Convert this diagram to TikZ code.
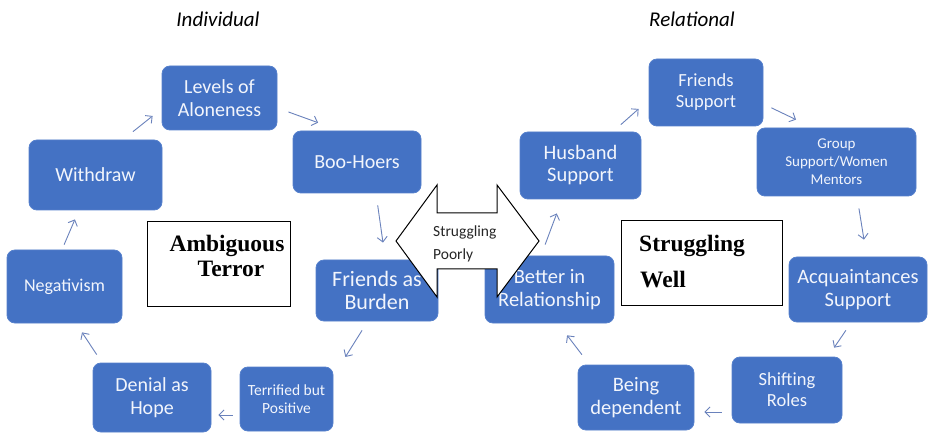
\documentclass[tikz,border=0pt]{standalone}
\usepackage{graphicx}
\usepackage{fontspec}
\setmainfont{Carlito}
\newfontfamily\tnr{Liberation Serif}
\usetikzlibrary{arrows.meta,calc}
\definecolor{boxblue}{HTML}{4472C4}
\definecolor{boxedge}{HTML}{5580CC}
\definecolor{arrc}{HTML}{6A82BC}
\definecolor{txtc}{HTML}{F2F5FC}
\newcommand\fsz[2]{\fontsize{#1}{#2}\selectfont}
\begin{document}
\begin{tikzpicture}[x=1pt,y=-1pt,
  bx/.style={draw=boxedge, fill=boxblue, rounded corners=8pt, text=txtc, align=center, inner sep=0pt, line width=0.8pt},
  lbl/.style={draw=black, fill=white, line width=1pt, inner sep=0pt},
  big/.style={font=\tnr\bfseries\fsz{23.5}{26}, inner sep=0pt},
  ttl/.style={font=\itshape\fsz{21}{24}, inner sep=0pt},
  arr/.style={draw=arrc, line width=0.9pt, -{Straight Barb[length=5pt,width=10pt]}}]
\useasboundingbox (0,0) rectangle (928,435);
\fill[white] (0,0) rectangle (928,435);

% titles
\node[ttl, anchor=base] (tind) at (218,27) {Individual};
\node[ttl, anchor=base] (trel) at (692,27) {Relational};

% left cycle
\node[bx, minimum width=115pt, minimum height=64pt, font=\fsz{20}{23}] (lev) at (219.5,98) {Levels of\\Aloneness};
\node[bx, minimum width=133pt, minimum height=70pt, font=\fsz{20}{23}] (wd) at (95.5,175) {Withdraw};
\node[bx, minimum width=128pt, minimum height=62pt, font=\fsz{20}{23}] (boo) at (357,162) {Boo-Hoers};
\node[bx, minimum width=115pt, minimum height=73pt, font=\fsz{18}{21}] (neg) at (64.5,286.5) {Negativism};
\node[bx, minimum width=122pt, minimum height=61pt, font=\fsz{22}{23}] (fab) at (377,290.5) {Friends as\\Burden};
\node[bx, minimum width=118pt, minimum height=69pt, font=\fsz{20}{23}] (den) at (152,397.5) {Denial as\\Hope};
\node[bx, minimum width=93pt, minimum height=64pt, font=\fsz{15.5}{18}] (ter) at (286.5,399) {Terrified but\\Positive};
\node[lbl, minimum width=143pt, minimum height=85pt] (amb) at (218.5,264.5) {};
\node[big, anchor=base] (amb1) at (227,252) {Ambiguous};
\node[big, anchor=base] (amb2) at (231,277) {Terror};

% right cycle
\node[bx, minimum width=114pt, minimum height=67pt, font=\fsz{18.5}{21}] (fs) at (706,92.5) {Friends\\Support};
\node[bx, minimum width=121pt, minimum height=67pt, font=\fsz{20.5}{22}] (hus) at (580.5,165.5) {Husband\\Support};
\node[bx, minimum width=159pt, minimum height=68pt, font=\fsz{15}{18}] (grp) at (836.5,162) {Group\\Support/Women\\Mentors};
\node[bx, minimum width=129pt, minimum height=67pt, font=\fsz{20.5}{23}] (bet) at (549.5,289.5) {Better in\\Relationship};
\node[bx, minimum width=138pt, minimum height=65pt, font=\fsz{20.5}{23}] (acq) at (858,289.5) {Acquaintances\\Support};
\node[bx, minimum width=110pt, minimum height=66pt, font=\fsz{18.5}{21}] (shf) at (787,390) {Shifting\\Roles};
\node[bx, minimum width=116pt, minimum height=65pt, font=\fsz{20.5}{23}] (bei) at (636,397.5) {Being\\dependent};
\node[lbl, minimum width=161pt, minimum height=85pt] (sw) at (701.5,263.5) {};
\node[big, anchor=base west] (sw1) at (639,252) {Struggling};
\node[big, anchor=base west] (sw2) at (640,288) {Well};

% left arrows
\draw[arr, shorten <=12.8pt, shorten >=11.5pt] ($(wd.north)+(27.5,0)$) -- ($(lev.west)+(0,10.8)$);
\draw[arr, shorten <=11.7pt, shorten >=23.3pt] ($(lev.east)+(0,10)$) -- ($(boo.north)+(-17,0)$);
\draw[arr, shorten <=12pt, shorten >=17.2pt] ($(boo.south)+(19,0)$) -- ($(fab.north)+(8.4,0)$);
\draw[arr, shorten <=10.6pt, shorten >=22.5pt] ($(fab.south)+(-9.3,0)$) -- ($(ter.east)+(0,-23)$);
\draw[arr, shorten <=7pt, shorten >=7pt] ($(ter.west)+(0,16)$) -- ($(den.east)+(0,17.5)$);
\draw[arr, shorten <=9.6pt, shorten >=10.75pt] ($(den.north)+(-50,0)$) -- ($(neg.south)+(11.6,0)$);
\draw[arr, shorten <=5.4pt, shorten >=9.8pt] ($(neg.north)+(-2.5,0)$) -- ($(wd.south)+(-16.7,0)$);

% right arrows
\draw[arr, shorten <=11.75pt, shorten >=15pt] ($(bet.north)+(-8.5,0)$) -- ($(hus.south)+(-18.5,0)$);
\draw[arr, shorten <=10.5pt, shorten >=13.4pt] ($(hus.north)+(32.5,0)$) -- ($(fs.west)+(0,7.5)$);
\draw[arr, shorten <=8.9pt, shorten >=18.5pt] ($(fs.east)+(0,11.5)$) -- ($(grp.north)+(-23.8,0)$);
\draw[arr, shorten <=12.1pt, shorten >=17.2pt] ($(grp.south)+(20.5,0)$) -- ($(acq.north)+(8.7,0)$);
\draw[arr, shorten <=9.6pt, shorten >=10.8pt] ($(acq.south)+(-6.7,0)$) -- ($(shf.north)+(41,0)$);
\draw[arr, shorten <=10pt, shorten >=10pt] ($(shf.west)+(0,22)$) -- ($(bei.east)+(0,14.5)$);
\draw[arr, shorten <=12.5pt, shorten >=15pt] ($(bei.north)+(-46.5,0)$) -- ($(bet.south)+(8.5,0)$);

% double arrow
\draw[black, fill=white, line width=1pt, line join=miter]
  (396,241) -- (437,185) -- (437,213) -- (497,213) -- (497,185) -- (539,241)
  -- (497,297) -- (497,269) -- (437,269) -- (437,297) -- cycle;
\node[anchor=base west, inner sep=0pt, font=\fsz{15.5}{18}, text=black!85] (sp1) at (433,237) {Struggling};
\node[anchor=base west, inner sep=0pt, font=\fsz{15.5}{18}, text=black!85] (sp2) at (433,260) {Poorly};
\end{tikzpicture}
\end{document}
